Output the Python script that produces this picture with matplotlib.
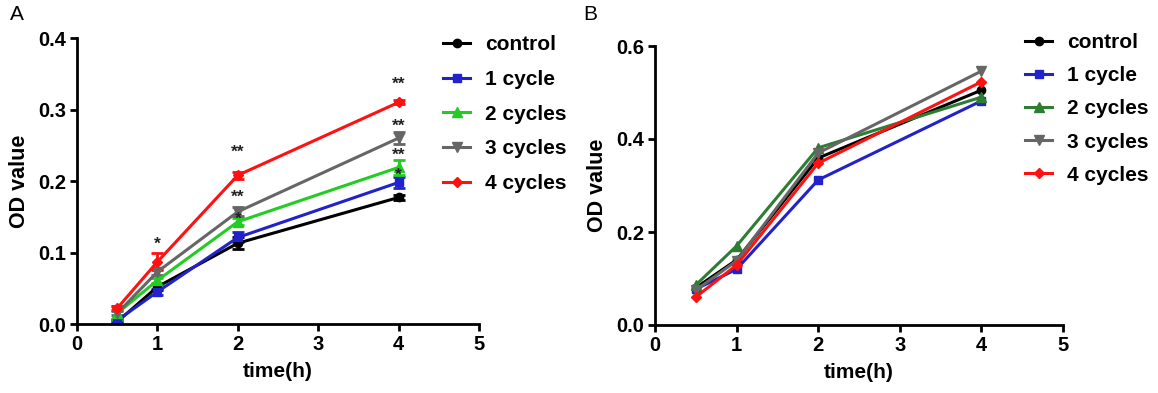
import matplotlib
matplotlib.use("Agg")
import matplotlib.pyplot as plt

plt.rcParams['font.family'] = ['Liberation Sans', 'DejaVu Sans']

time = [0.5, 1, 2, 4]
labels = ["control", "1 cycle", "2 cycles", "3 cycles", "4 cycles"]

# Panel A means and errors
a_control = [0.003, 0.052, 0.113, 0.177]
a_c1 = [0.005, 0.045, 0.121, 0.198]
a_c2 = [0.015, 0.061, 0.143, 0.219]
a_c3 = [0.015, 0.073, 0.157, 0.260]
a_c4 = [0.022, 0.087, 0.208, 0.310]
a_control_err = [0.002, 0.004, 0.008, 0.003]
a_c1_err = [0.002, 0.004, 0.007, 0.008]
a_c2_err = [0.010, 0.004, 0.005, 0.010]
a_c3_err = [0.003, 0.004, 0.006, 0.008]
a_c4_err = [0.003, 0.012, 0.005, 0.003]

# Panel B means
b_control = [0.080, 0.140, 0.359, 0.505]
b_c1 = [0.077, 0.120, 0.312, 0.482]
b_c2 = [0.086, 0.170, 0.381, 0.490]
b_c3 = [0.075, 0.138, 0.370, 0.546]
b_c4 = [0.060, 0.129, 0.348, 0.523]

# significance annotations in panel A (x, y, text)
star_x = [1, 2, 2, 2, 4, 4, 4, 4]
star_y = [0.112, 0.240, 0.177, 0.146, 0.335, 0.277, 0.236, 0.208]
star_txt = ["*", "**", "**", "*", "**", "**", "**", "*"]

colors_a = ["#000000", "#2222cc", "#22cc22", "#666666", "#ff1111"]
colors_b = ["#000000", "#2222cc", "#2e7d32", "#666666", "#ff1111"]
markers = ["o", "s", "^", "v", "D"]
msizes = [6, 6, 7, 7, 5]

W, H = 1158, 393
fig = plt.figure(figsize=(W / 100, H / 100), dpi=100)
axA = fig.add_axes([77 / W, 1 - 324 / H, 402 / W, 286 / H])
axB = fig.add_axes([655 / W, 1 - 325 / H, 408 / W, 279 / H])

a_series = [a_control, a_c1, a_c2, a_c3, a_c4]
a_errs = [a_control_err, a_c1_err, a_c2_err, a_c3_err, a_c4_err]
handlesA = []
for s, e, c, m, ms, lab in zip(a_series, a_errs, colors_a, markers, msizes, labels):
    cont = axA.errorbar(time, s, yerr=e, color=c, marker=m, markersize=ms,
                        linewidth=2.2, capsize=4, capthick=2, elinewidth=2, label=lab)
    handlesA.append(cont[0])
for x, y, t in zip(star_x, star_y, star_txt):
    axA.text(x, y, t, ha="center", va="center", fontsize=12.5, fontweight="bold", color="#222222")

b_series = [b_control, b_c1, b_c2, b_c3, b_c4]
handlesB = []
for s, c, m, ms, lab in zip(b_series, colors_b, markers, msizes, labels):
    ln, = axB.plot(time, s, color=c, marker=m, markersize=ms, linewidth=2.2, label=lab)
    handlesB.append(ln)

for ax, ymax, yticks in [(axA, 0.4, [0.0, 0.1, 0.2, 0.3, 0.4]),
                         (axB, 0.6, [0.0, 0.2, 0.4, 0.6])]:
    ax.set_xlim(0, 5)
    ax.set_ylim(0, ymax)
    ax.set_xticks([0, 1, 2, 3, 4, 5])
    ax.set_yticks(yticks)
    ax.set_yticklabels([f"{v:.1f}" for v in yticks])
    for sp in ["top", "right"]:
        ax.spines[sp].set_visible(False)
    for sp in ["left", "bottom"]:
        ax.spines[sp].set_linewidth(2)
    ax.tick_params(width=2, length=5, labelsize=14.5, pad=3)
    for lbl in ax.get_xticklabels() + ax.get_yticklabels():
        lbl.set_fontweight("bold")
    ax.set_xlabel("time(h)", fontsize=15, fontweight="bold", labelpad=6)
    ax.set_ylabel("OD value", fontsize=15.5, fontweight="bold", labelpad=6)

for handles, (lx, ly), sp in [(handlesA, (443, 35), 0.76), (handlesB, (1025, 33), 0.68)]:
    fig.legend(handles=handles, labels=labels, loc="upper left",
               bbox_to_anchor=(lx / W, 1 - ly / H), bbox_transform=fig.transFigure,
               frameon=False, prop={"size": 15, "weight": "bold"},
               handlelength=1.3, handletextpad=0.7, labelspacing=sp,
               borderpad=0, borderaxespad=0)

fig.text(10 / W, 1 - 5 / H, "A", fontsize=15, va="top", ha="left")
fig.text(583 / W, 1 - 5 / H, "B", fontsize=15, va="top", ha="left")

fig.savefig("out.png", dpi=100)
